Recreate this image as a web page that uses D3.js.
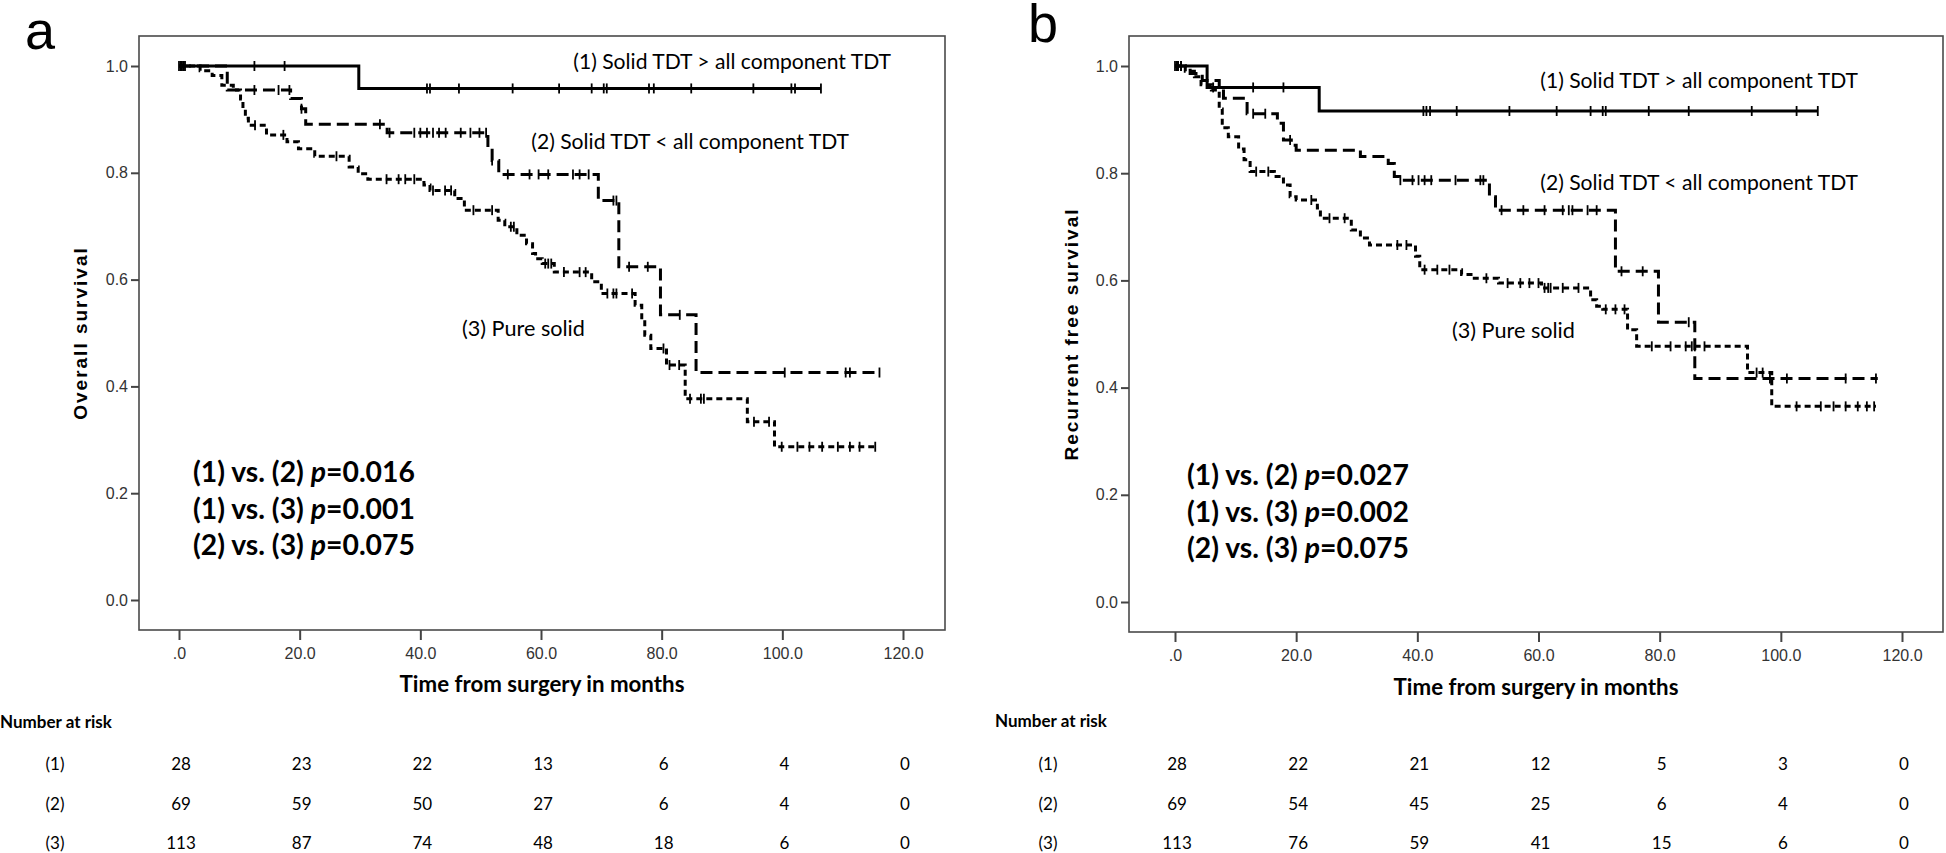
<!DOCTYPE html>
<html><head><meta charset="utf-8">
<script src="https://cdn.jsdelivr.net/npm/d3@7"></script>
<style>
html,body{margin:0;padding:0;background:#fff;}
svg{display:block;}
</style></head>
<body>
<script>
// ---------------- DATA ----------------
const xTicks = [0, 20, 40, 60, 80, 100, 120];
const xTickLabels = [".0", "20.0", "40.0", "60.0", "80.0", "100.0", "120.0"];
const yTicks = [0, 0.2, 0.4, 0.6, 0.8, 1.0];
const yTickLabels = ["0.0", "0.2", "0.4", "0.6", "0.8", "1.0"];
const groupNames = ["(1) Solid TDT > all component TDT", "(2) Solid TDT < all component TDT", "(3) Pure solid"];
const riskRowLabels = ["(1)", "(2)", "(3)"];

// Panel a: overall survival — steps [time, survival after event]
const osSteps1 = [[29.8, 0.958]];
const osEnd1 = 106.4;
const osCens1 = [0, 0.4, 0.8, 12.5, 17.5, 41.1, 41.6, 46.4, 55.3, 63.0, 68.4, 70.4, 70.9, 77.9, 78.7, 84.9, 95.2, 101.5, 102.1, 106.4];

const osSteps2 = [[8.0, 0.955], [18.5, 0.939], [20.3, 0.92], [21.0, 0.891], [34.5, 0.875], [51.2, 0.848], [51.9, 0.823], [53.0, 0.797], [69.5, 0.748], [72.9, 0.624], [79.8, 0.534], [85.7, 0.426]];
const osEnd2 = 116.1;
const osCens2 = [0.5, 12.5, 16.5, 18.3, 20.3, 33.3, 34.9, 39, 40, 41.1, 42.1, 43.1, 44.2, 46.7, 48.3, 49.8, 50.9, 51.9, 54.5, 58.1, 59.6, 61.2, 65.3, 66.4, 67.9, 72.0, 72.5, 74.6, 77.7, 83.0, 100.4, 110.5, 111.2, 116.1];

const osSteps3 = [[3.5, 0.991], [5.5, 0.982], [7.1, 0.964], [9.0, 0.955], [10.2, 0.938], [10.6, 0.92], [11.0, 0.902], [11.5, 0.889], [14.5, 0.871], [17.9, 0.858], [19.8, 0.845], [22.5, 0.831], [28.2, 0.811], [29.7, 0.798], [31.3, 0.788], [40.6, 0.777], [41.6, 0.767], [45.7, 0.752], [47.3, 0.730], [52.9, 0.711], [54.0, 0.699], [56.0, 0.683], [57.6, 0.667], [58.6, 0.649], [59.1, 0.639], [60.2, 0.630], [62.2, 0.614], [68.4, 0.596], [70.0, 0.574], [75.6, 0.552], [76.7, 0.524], [77.2, 0.496], [78.2, 0.471], [80.8, 0.440], [83.9, 0.377], [94.2, 0.334], [98.7, 0.287]];
const osEnd3 = 115.9;
const osCens3 = [0.3, 1, 12.6, 17.3, 26.1, 34.4, 36.4, 37.5, 39, 42.1, 44.1, 45.1, 48.8, 51.9, 55, 55.5, 60.7, 61.2, 61.7, 63.8, 66.4, 67.4, 71, 72, 72.5, 75.1, 80.3, 81.3, 82.9, 84.7, 86.5, 87, 95.3, 97.8, 99.9, 102.5, 104.5, 106.6, 109.2, 111.2, 112.8, 115.4];

// Panel b: recurrence-free survival
const rfsSteps1 = [[5.3, 0.960], [23.8, 0.916]];
const rfsEnd1 = 106.1;
const rfsCens1 = [0, 0.5, 1.0, 6.3, 12.9, 17.9, 41, 41.5, 42.1, 46.5, 55.2, 63, 68.6, 70.6, 71.1, 78.2, 84.8, 95.2, 102.6, 106.1];

const rfsSteps2 = [[2.5, 0.986], [4.5, 0.973], [7.3, 0.958], [8.0, 0.94], [11.9, 0.911], [16.9, 0.893], [17.9, 0.862], [19.2, 0.852], [20.0, 0.843], [30.6, 0.831], [35.2, 0.818], [36.2, 0.794], [37.0, 0.787], [51.9, 0.756], [52.9, 0.731], [72.7, 0.617], [79.8, 0.522], [85.8, 0.417]];
const rfsEnd2 = 116.0;
const rfsCens2 = [0.3, 1, 12.9, 14.9, 19, 37.2, 39.2, 40.2, 41.2, 42.3, 46.3, 50.4, 50.9, 53.9, 57.5, 61, 64, 65, 65.6, 68.1, 69.6, 73.7, 77.2, 84.8, 98.2, 101, 110.7, 115.7];

const rfsSteps3 = [[1.7, 0.99], [3.2, 0.98], [4.3, 0.965], [6.0, 0.955], [7.3, 0.92], [7.8, 0.885], [8.8, 0.868], [10.5, 0.845], [11.4, 0.825], [12.4, 0.803], [16.4, 0.794], [17.9, 0.778], [19.0, 0.756], [20.0, 0.75], [23.5, 0.735], [24.0, 0.716], [29.1, 0.694], [30.6, 0.679], [32.1, 0.666], [39.7, 0.645], [40.4, 0.62], [47.3, 0.611], [49.4, 0.604], [53.4, 0.595], [60.5, 0.586], [68.6, 0.564], [69.6, 0.552], [70.6, 0.546], [74.7, 0.508], [76.2, 0.477], [94.5, 0.428], [98.5, 0.365]];
const rfsEnd3 = 115.7;
const rfsCens3 = [0.5, 13.4, 15.4, 22.5, 25.5, 28, 36.7, 38.2, 41.2, 43.3, 45.3, 51.4, 54.9, 57, 58.5, 60, 61, 61.6, 62, 64, 66.6, 71.1, 72.7, 74.2, 78.7, 81.8, 84.3, 85.3, 85.8, 87.4, 96, 97, 102.6, 106.6, 108.7, 110.7, 112.7, 114.2, 115.4];

// Numbers at risk (at xTicks)
const riskA1 = [28, 23, 22, 13, 6, 4, 0];
const riskA2 = [69, 59, 50, 27, 6, 4, 0];
const riskA3 = [113, 87, 74, 48, 18, 6, 0];
const riskB1 = [28, 22, 21, 12, 5, 3, 0];
const riskB2 = [69, 54, 45, 25, 6, 4, 0];
const riskB3 = [113, 76, 59, 41, 15, 6, 0];

const pTextA = [["(1) vs. (2) ", "0.016"], ["(1) vs. (3) ", "0.001"], ["(2) vs. (3) ", "0.075"]];
const pTextB = [["(1) vs. (2) ", "0.027"], ["(1) vs. (3) ", "0.002"], ["(2) vs. (3) ", "0.075"]];

// ---------------- DRAW ----------------
const W = 1946, H = 853;
const svg = d3.select("body").append("svg").attr("width", W).attr("height", H);
const CAL = "Lato, 'Open Sans', sans-serif";
const ARIAL = "'Liberation Sans', Arial, sans-serif";

function fit(sel, target) {
  const base = 20;
  sel.style("font-size", base + "px");
  const w = sel.node().getComputedTextLength();
  sel.style("font-size", (base * target / w) + "px");
  return sel;
}

const dashes = [null, "12,6", "6,4"];

function drawPanel(c) {
  const g = svg.append("g");
  const x = d3.scaleLinear().domain([0, 120]).range([c.x0, c.x120]);
  const y = d3.scaleLinear().domain([0, 1]).range([c.y0, c.y1]);

  // frame
  g.append("rect").attr("x", c.fl).attr("y", c.ft).attr("width", c.fr - c.fl).attr("height", c.fb - c.ft)
    .attr("fill", "none").attr("stroke", "#4a4a4a").attr("stroke-width", 1.6);

  // y axis
  const ya = g.append("g").attr("transform", `translate(${c.fl},0)`)
    .call(d3.axisLeft(y).tickValues(yTicks).tickSize(8).tickPadding(3)
      .tickFormat((d, i) => yTickLabels[i]));
  ya.select(".domain").remove();
  ya.selectAll("line").attr("stroke", "#444").attr("stroke-width", 2);
  ya.selectAll("text").attr("fill", "#333").style("font-family", ARIAL).style("font-size", "16px");

  // x axis
  const xa = g.append("g").attr("transform", `translate(0,${c.fb})`)
    .call(d3.axisBottom(x).tickValues(xTicks).tickSize(10).tickPadding(8)
      .tickFormat((d, i) => xTickLabels[i]));
  xa.select(".domain").remove();
  xa.selectAll("line").attr("stroke", "#444").attr("stroke-width", 2);
  xa.selectAll("text").attr("fill", "#333").style("font-family", ARIAL).style("font-size", "16px");

  // curves
  const line = d3.line().x(d => x(d[0])).y(d => y(d[1])).curve(d3.curveStepAfter);
  c.curves.forEach((cv, i) => {
    const pts = [[0, 1]].concat(cv.steps);
    pts.push([cv.end, cv.steps[cv.steps.length - 1][1]]);
    g.append("path").attr("d", line(pts)).attr("fill", "none").attr("stroke", "#000")
      .attr("stroke-width", 3).attr("stroke-dasharray", dashes[i]);
    const survAt = t => {
      let s = 1;
      cv.steps.forEach(st => { if (st[0] <= t) s = st[1]; });
      return s;
    };
    g.selectAll(null).data(cv.cens).enter().append("line")
      .attr("x1", d => x(d)).attr("x2", d => x(d))
      .attr("y1", d => y(survAt(d)) - 5).attr("y2", d => y(survAt(d)) + 5)
      .attr("stroke", "#000").attr("stroke-width", 1.8);
  });

  // panel letter
  g.append("text").attr("x", c.letterX).attr("y", c.letterY).text(c.letter)
    .style("font-family", ARIAL).style("font-size", "54px");

  // y title
  g.append("text").attr("transform", `translate(${c.yTitleX},${(c.y0 + c.y1) / 2}) rotate(-90)`)
    .attr("text-anchor", "middle").text(c.yTitle)
    .style("font-family", ARIAL).style("font-weight", "bold").style("font-size", "19px")
    .style("letter-spacing", "2px");

  // x title
  const xt = g.append("text").attr("x", (c.fl + c.fr) / 2).attr("y", c.xTitleY).attr("text-anchor", "middle")
    .text("Time from surgery in months").style("font-family", CAL).style("font-weight", "bold");
  fit(xt, 285);

  // group labels
  c.labels.forEach((lb, i) => {
    const t = g.append("text").attr("x", lb[0]).attr("y", lb[1]).text(groupNames[i])
      .attr("text-anchor", i < 2 ? "end" : "start").style("font-family", CAL);
    fit(t, i < 2 ? 318 : 123);
  });

  // p values
  c.pText.forEach((p, i) => {
    const t = g.append("text").attr("x", c.pX).attr("y", c.pY[i])
      .style("font-family", CAL).style("font-weight", "bold");
    t.append("tspan").text(p[0]);
    t.append("tspan").text("p").style("font-style", "italic");
    t.append("tspan").text("=" + p[1]);
    fit(t, 222);
  });

  // risk table
  const nr = g.append("text").attr("x", c.nrX).attr("y", c.nrY).text("Number at risk")
    .style("font-family", CAL).style("font-weight", "bold");
  fit(nr, 112);
  c.risk.forEach((row, r) => {
    g.append("text").attr("x", c.rowLabX).attr("y", c.rowY[r]).attr("text-anchor", "middle")
      .text(riskRowLabels[r]).style("font-family", CAL).style("font-size", "17px");
    g.selectAll(null).data(row).enter().append("text")
      .attr("x", (d, k) => x(xTicks[k]) + 2).attr("y", c.rowY[r]).attr("text-anchor", "middle")
      .text(d => d).style("font-family", CAL).style("font-size", "17px");
  });
}

drawPanel({
  fl: 139, fr: 945, ft: 36, fb: 630,
  x0: 179, x120: 903, y0: 600, y1: 66,
  letter: "a", letterX: 25, letterY: 49,
  yTitle: "Overall survival", yTitleX: 87, xTitleY: 692,
  curves: [
    { steps: osSteps1, end: osEnd1, cens: osCens1 },
    { steps: osSteps2, end: osEnd2, cens: osCens2 },
    { steps: osSteps3, end: osEnd3, cens: osCens3 }],
  labels: [[891, 69], [849, 149], [462, 336]],
  pText: pTextA, pX: 193, pY: [482, 519, 555],
  risk: [riskA1, riskA2, riskA3],
  nrX: 0, nrY: 728, rowLabX: 55, rowY: [770, 810, 849]
});

drawPanel({
  fl: 1129, fr: 1943, ft: 36, fb: 632,
  x0: 1175, x120: 1902, y0: 602, y1: 66,
  letter: "b", letterX: 1028, letterY: 42,
  yTitle: "Recurrent free survival", yTitleX: 1078, xTitleY: 695,
  curves: [
    { steps: rfsSteps1, end: rfsEnd1, cens: rfsCens1 },
    { steps: rfsSteps2, end: rfsEnd2, cens: rfsCens2 },
    { steps: rfsSteps3, end: rfsEnd3, cens: rfsCens3 }],
  labels: [[1858, 88], [1858, 190], [1452, 338]],
  pText: pTextB, pX: 1187, pY: [485, 522, 558],
  risk: [riskB1, riskB2, riskB3],
  nrX: 995, nrY: 727, rowLabX: 1048, rowY: [770, 810, 849]
});
</script>
</body></html>
